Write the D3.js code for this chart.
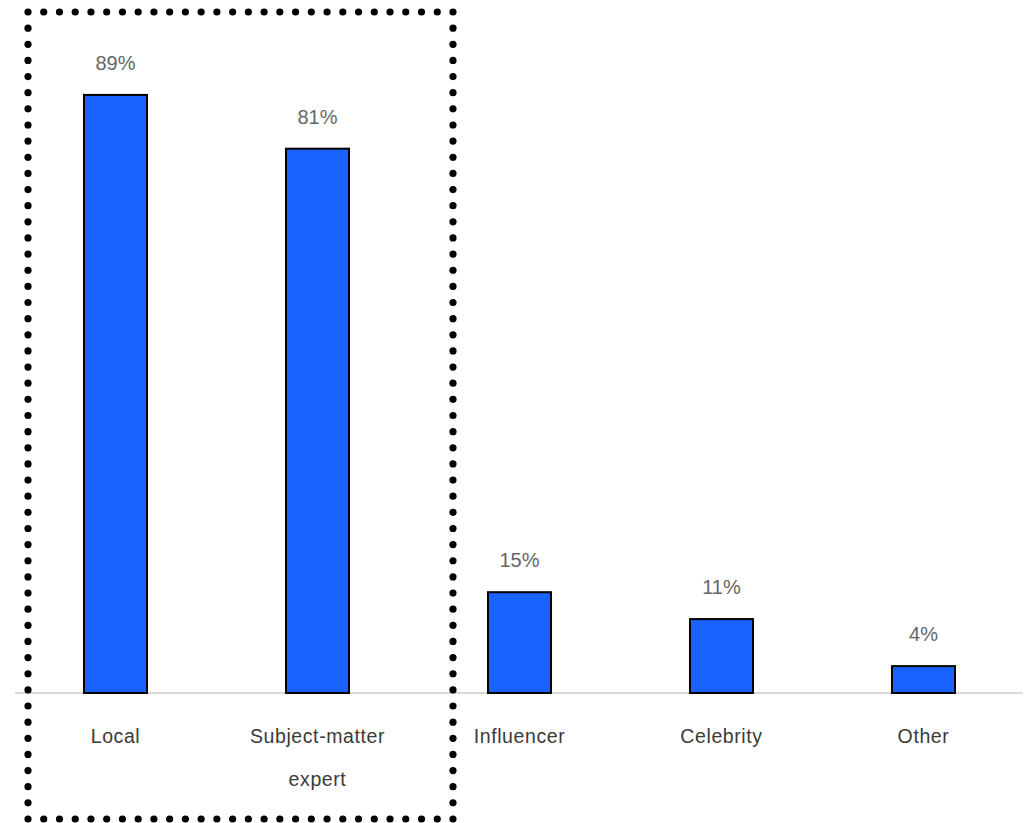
<!DOCTYPE html>
<html>
<head>
<meta charset="utf-8">
<script src="https://cdn.jsdelivr.net/npm/d3@7/dist/d3.min.js"></script>
<style>
  html, body { margin: 0; padding: 0; background: #fff; }
  svg { display: block; }
  text { font-family: "Liberation Sans", Arial, Helvetica, sans-serif; }
</style>
</head>
<body>
<svg id="chart" width="1035" height="823"></svg>
<script>
const categories = ["Local", "Subject-matter expert", "Influencer", "Celebrity", "Other"];
const categoryLines = [["Local"], ["Subject-matter", "expert"], ["Influencer"], ["Celebrity"], ["Other"]];
const values = [89, 81, 15, 11, 4];
const valueLabels = ["89%", "81%", "15%", "11%", "4%"];
const highlighted = ["Local", "Subject-matter expert"];

const svg = d3.select("#chart");
const W = 1035, H = 823;
const baseY = 693;

const x = d3.scaleBand()
  .domain(categories)
  .range([14.5, 1024.5])
  .paddingInner(0.688)
  .paddingOuter(0.344);

const y = d3.scaleLinear()
  .domain([0, 100])
  .range([baseY, baseY - 672]);

// baseline
svg.append("line")
  .attr("x1", 15).attr("x2", 1023)
  .attr("y1", y(0)).attr("y2", y(0))
  .attr("stroke", "#d9d9d9").attr("stroke-width", 2);

// bars
svg.selectAll("rect.bar")
  .data(categories)
  .join("rect")
  .attr("class", "bar")
  .attr("x", d => x(d))
  .attr("width", x.bandwidth())
  .attr("y", (d, i) => y(values[i]))
  .attr("height", (d, i) => y(0) - y(values[i]))
  .attr("fill", "#1a62ff")
  .attr("stroke", "#000")
  .attr("stroke-width", 2);

// value labels
svg.selectAll("text.val")
  .data(categories)
  .join("text")
  .attr("class", "val")
  .attr("x", d => x(d) + x.bandwidth() / 2)
  .attr("y", (d, i) => y(values[i]) - 25)
  .attr("text-anchor", "middle")
  .attr("font-size", 20)
  .attr("fill", "#666")
  .text((d, i) => valueLabels[i]);

// category labels
const cat = svg.selectAll("text.cat")
  .data(categories)
  .join("text")
  .attr("class", "cat")
  .attr("text-anchor", "middle")
  .attr("font-size", 19.5)
  .attr("letter-spacing", 0.6)
  .attr("fill", "#3a3a3a");
cat.each(function(d, i) {
  const t = d3.select(this);
  categoryLines[i].forEach((line, j) => {
    t.append("tspan")
      .attr("x", x(d) + x.bandwidth() / 2)
      .attr("y", y(0) + 50 + j * 43)
      .text(line);
  });
});

// dotted highlight box
const bx0 = x(highlighted[0]) - 56;
const bx1 = x("Influencer") - 35;
const by0 = 12, by1 = 819;
const dots = [];
function side(xa, ya, xb, yb) {
  const len = Math.hypot(xb - xa, yb - ya);
  const n = Math.round(len / 16);
  for (let k = 0; k < n; k++) {
    const t = k / n;
    dots.push([xa + (xb - xa) * t, ya + (yb - ya) * t]);
  }
}
side(bx0, by0, bx1, by0);
side(bx1, by0, bx1, by1);
side(bx1, by1, bx0, by1);
side(bx0, by1, bx0, by0);
svg.selectAll("circle.dot")
  .data(dots)
  .join("circle")
  .attr("class", "dot")
  .attr("cx", d => d[0])
  .attr("cy", d => d[1])
  .attr("r", 3.6)
  .attr("fill", "#000");
</script>
</body>
</html>
